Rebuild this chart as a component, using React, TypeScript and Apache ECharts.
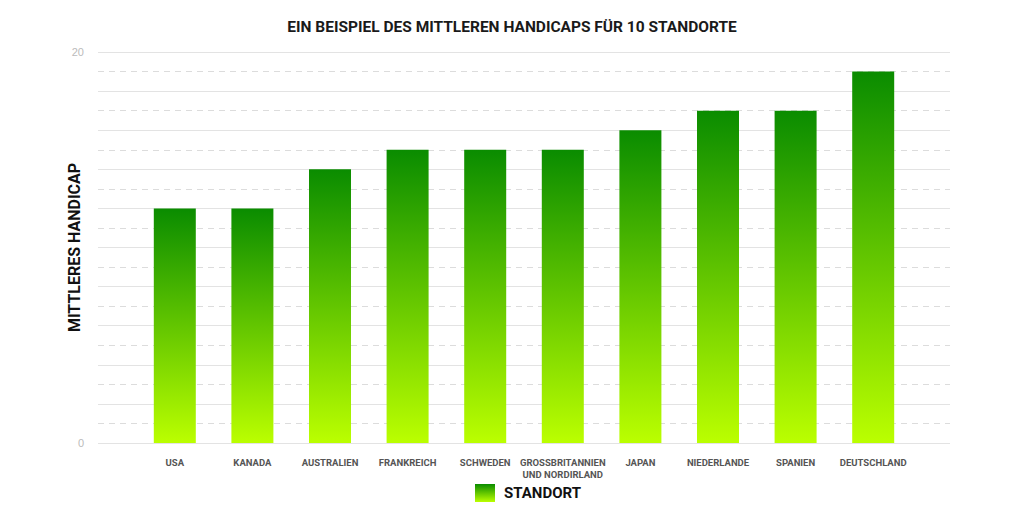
import React, { useEffect, useRef } from "react";
import * as echarts from "echarts";

const categories = [
  "USA",
  "KANADA",
  "AUSTRALIEN",
  "FRANKREICH",
  "SCHWEDEN",
  "GROSSBRITANNIEN\nUND NORDIRLAND",
  "JAPAN",
  "NIEDERLANDE",
  "SPANIEN",
  "DEUTSCHLAND",
];
const handicapValues = [12, 12, 14, 15, 15, 15, 16, 17, 17, 19];
const yMin = 0;
const yMax = 20;
const titleText = "EIN BEISPIEL DES MITTLEREN HANDICAPS FÜR 10 STANDORTE";
const yAxisName = "MITTLERES HANDICAP";
const seriesName = "STANDORT";

const FONT = "Roboto, 'DejaVu Sans Condensed', sans-serif";

export default function App() {
  const ref = useRef<HTMLDivElement>(null);
  useEffect(() => {
    if (!ref.current) return;
    const chart = echarts.init(ref.current, undefined, { renderer: "svg" });
    const grad = new echarts.graphic.LinearGradient(0, 0, 0, 1, [
      { offset: 0, color: "#0a8c00" },
      { offset: 1, color: "#bbff00" },
    ]);
    chart.setOption({
      animation: false,
      backgroundColor: "#ffffff",
      title: {
        text: titleText,
        left: "center",
        top: 14,
        textStyle: { fontFamily: FONT, fontWeight: "bold", fontSize: 15.5, color: "#1a1a1a" },
      },
      legend: {
        data: [seriesName],
        left: 470,
        top: 479,
        itemWidth: 20,
        itemHeight: 18,
        itemGap: 10,
        icon: "rect",
        textStyle: { fontFamily: FONT, fontWeight: "bold", fontSize: 15, color: "#111", padding: [0, 0, 0, 4] },
      },
      grid: [
        { left: 98, right: 74, top: 52, bottom: 69 },
        { left: 136, right: 112, top: 52, bottom: 69 },
      ],
      xAxis: [
        { type: "value", gridIndex: 0, show: false, min: 0, max: 1 },
        {
          type: "category",
          gridIndex: 1,
          data: categories,
          axisLine: { show: false },
          axisTick: { show: false },
          axisLabel: {
            interval: 0,
            margin: 13,
            fontFamily: FONT,
            fontWeight: "bold",
            fontSize: 9.5,
            color: "#555",
            lineHeight: 12,
          },
        },
      ],
      yAxis: [
        {
          type: "value",
          gridIndex: 0,
          min: yMin,
          max: yMax,
          interval: 2,
          name: yAxisName,
          nameLocation: "middle",
          nameGap: 16,
          nameRotate: 90,
          nameMoveOverlap: false,
          nameTextStyle: { fontFamily: FONT, fontWeight: "bold", fontSize: 16, color: "#111" },
          axisLine: { show: false },
          axisTick: { show: false },
          axisLabel: {
            margin: 14,
            fontSize: 11,
            color: "#bbb",
            formatter: (v: number) => (v === yMin || v === yMax ? String(v) : ""),
          },
          splitLine: { lineStyle: { color: "#e3e3e3", width: 1, type: "solid" } },
          minorTick: { show: false, splitNumber: 2 },
          minorSplitLine: { show: true, lineStyle: { color: "#dcdcdc", width: 1, type: [6, 5] } },
        },
        {
          type: "value",
          gridIndex: 1,
          min: yMin,
          max: yMax,
          show: false,
          splitLine: { show: false },
        },
      ],
      series: [
        {
          name: seriesName,
          type: "bar",
          xAxisIndex: 1,
          yAxisIndex: 1,
          data: handicapValues,
          barWidth: 42,
          itemStyle: { color: grad },
        },
      ],
    });
    return () => chart.dispose();
  }, []);
  return <div ref={ref} style={{ width: 1024, height: 512, position: "absolute", left: 0, top: 0 }} />;
}
